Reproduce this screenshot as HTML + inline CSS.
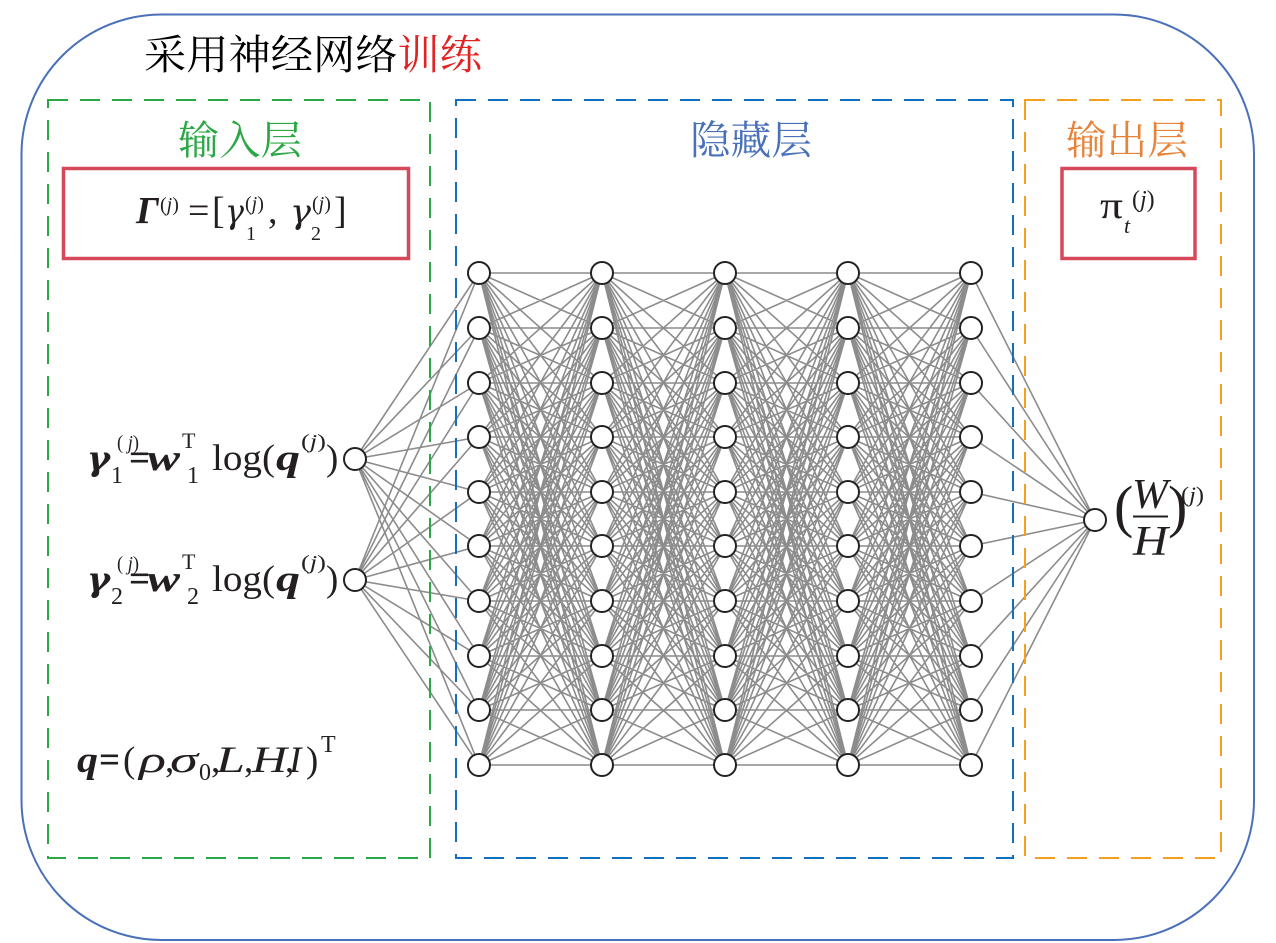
<!DOCTYPE html>
<html>
<head>
<meta charset="utf-8">
<style>
  html,body{margin:0;padding:0;background:#fff;}
  svg{display:block;}
  .m{font-family:"Liberation Serif",serif;fill:#231f20;}
  .g{font-family:"DejaVu Serif","Liberation Serif",serif;}
  .cjk{font-family:"Liberation Serif","Noto Serif CJK SC","Noto Sans CJK SC",serif;}
</style>
</head>
<body>
<svg width="1276" height="943" viewBox="0 0 1276 943" xmlns="http://www.w3.org/2000/svg">
  <defs>
    <path id="pair" fill="none" d="
M0 273L123 273M0 273L123 328M0 273L123 383M0 273L123 437M0 273L123 492M0 273L123 546M0 273L123 601M0 273L123 656M0 273L123 710M0 273L123 765
M0 328L123 273M0 328L123 328M0 328L123 383M0 328L123 437M0 328L123 492M0 328L123 546M0 328L123 601M0 328L123 656M0 328L123 710M0 328L123 765
M0 383L123 273M0 383L123 328M0 383L123 383M0 383L123 437M0 383L123 492M0 383L123 546M0 383L123 601M0 383L123 656M0 383L123 710M0 383L123 765
M0 437L123 273M0 437L123 328M0 437L123 383M0 437L123 437M0 437L123 492M0 437L123 546M0 437L123 601M0 437L123 656M0 437L123 710M0 437L123 765
M0 492L123 273M0 492L123 328M0 492L123 383M0 492L123 437M0 492L123 492M0 492L123 546M0 492L123 601M0 492L123 656M0 492L123 710M0 492L123 765
M0 546L123 273M0 546L123 328M0 546L123 383M0 546L123 437M0 546L123 492M0 546L123 546M0 546L123 601M0 546L123 656M0 546L123 710M0 546L123 765
M0 601L123 273M0 601L123 328M0 601L123 383M0 601L123 437M0 601L123 492M0 601L123 546M0 601L123 601M0 601L123 656M0 601L123 710M0 601L123 765
M0 656L123 273M0 656L123 328M0 656L123 383M0 656L123 437M0 656L123 492M0 656L123 546M0 656L123 601M0 656L123 656M0 656L123 710M0 656L123 765
M0 710L123 273M0 710L123 328M0 710L123 383M0 710L123 437M0 710L123 492M0 710L123 546M0 710L123 601M0 710L123 656M0 710L123 710M0 710L123 765
M0 765L123 273M0 765L123 328M0 765L123 383M0 765L123 437M0 765L123 492M0 765L123 546M0 765L123 601M0 765L123 656M0 765L123 710M0 765L123 765"/>
  </defs>

  <!-- outer rounded frame -->
  <rect x="21.5" y="14.5" width="1232.5" height="925.5" rx="140" ry="140" fill="none" stroke="#4a70b9" stroke-width="2"/>

  <!-- title -->
  <text class="cjk" x="144" y="69" font-size="41" textLength="338" lengthAdjust="spacingAndGlyphs" fill="#000"><tspan fill="#000">采用神经网络</tspan><tspan fill="#e02424">训练</tspan></text>

  <!-- edges -->
  <g stroke="#8c8c8c" stroke-width="1.6" fill="none" stroke-linecap="round">
    <path d="
M355 459L479 273M355 459L479 328M355 459L479 383M355 459L479 437M355 459L479 492M355 459L479 546M355 459L479 601M355 459L479 656M355 459L479 710M355 459L479 765
M355 580L479 273M355 580L479 328M355 580L479 383M355 580L479 437M355 580L479 492M355 580L479 546M355 580L479 601M355 580L479 656M355 580L479 710M355 580L479 765"/>
    <use href="#pair" transform="translate(479,0)"/>
    <use href="#pair" transform="translate(602,0)"/>
    <use href="#pair" transform="translate(725,0)"/>
    <use href="#pair" transform="translate(848,0)"/>
    <path d="
M971 273L1095 520M971 328L1095 520M971 383L1095 520M971 437L1095 520M971 492L1095 520M971 546L1095 520M971 601L1095 520M971 656L1095 520M971 710L1095 520M971 765L1095 520"/>
  </g>

  <!-- dashed layer boxes -->
  <rect x="48" y="100" width="382" height="758" fill="none" stroke="#2aa845" stroke-width="2" stroke-dasharray="20 12"/>
  <rect x="456" y="100" width="557" height="758" fill="none" stroke="#136fbd" stroke-width="2" stroke-dasharray="20 12"/>
  <rect x="1025" y="100" width="196" height="758" fill="none" stroke="#f3a020" stroke-width="2" stroke-dasharray="20 12"/>

  <!-- layer labels -->
  <text class="cjk" x="178" y="154" font-size="40" fill="#2aa845" textLength="124" lengthAdjust="spacingAndGlyphs">输入层</text>
  <text class="cjk" x="690" y="154" font-size="40" fill="#4a70b9" textLength="122" lengthAdjust="spacingAndGlyphs">隐藏层</text>
  <text class="cjk" x="1066" y="154" font-size="40" fill="#e8833a" textLength="122" lengthAdjust="spacingAndGlyphs">输出层</text>

  <!-- red boxes -->
  <rect x="63.5" y="168.5" width="345" height="90" fill="none" stroke="#d5495b" stroke-width="3.5"/>
  <rect x="1062" y="168.5" width="133" height="90" fill="none" stroke="#d5495b" stroke-width="3.5"/>

  <!-- Gamma formula -->
  <g class="m">
    <text x="136" y="223" font-size="38" font-weight="bold" font-style="italic">Γ</text>
    <text x="160" y="211" font-size="20">(<tspan font-style="italic">j</tspan>)</text>
    <text x="188" y="223" font-size="38">=</text>
    <text x="212" y="223" font-size="38">[</text>
    <text class="g" x="225" y="223" font-size="34" font-style="italic" textLength="19" lengthAdjust="spacingAndGlyphs">γ</text>
    <text x="245" y="210" font-size="20">(<tspan font-style="italic">j</tspan>)</text>
    <text x="246" y="240" font-size="20">1</text>
    <text x="268" y="223" font-size="38">,</text>
    <text class="g" x="290" y="223" font-size="34" font-style="italic" textLength="21" lengthAdjust="spacingAndGlyphs">γ</text>
    <text x="312" y="210" font-size="20">(<tspan font-style="italic">j</tspan>)</text>
    <text x="311" y="240" font-size="20">2</text>
    <text x="334" y="223" font-size="38">]</text>
  </g>

  <!-- pi formula -->
  <g class="m">
    <text x="1100" y="218" font-size="38" textLength="23" lengthAdjust="spacingAndGlyphs">π</text>
    <text x="1124" y="233" font-size="22" font-style="italic">t</text>
    <text x="1132" y="207" font-size="24">(<tspan font-style="italic">j</tspan>)</text>
  </g>

  <!-- gamma1 formula -->
  <g class="m">
    <text class="g" x="87" y="470" font-size="34" font-weight="bold" font-style="italic" textLength="23" lengthAdjust="spacingAndGlyphs">γ</text>
    <text x="117" y="449" font-size="20" textLength="22" lengthAdjust="spacingAndGlyphs">(<tspan font-style="italic"> j</tspan>)</text>
    <text x="111" y="483" font-size="24">1</text>
    <text x="129" y="470" font-size="37" font-weight="bold">=</text>
    <text x="147" y="470" font-size="37" font-weight="bold" font-style="italic" textLength="33" lengthAdjust="spacingAndGlyphs">w</text>
    <text x="182" y="448" font-size="22">T</text>
    <text x="187" y="483" font-size="24">1</text>
    <text x="212" y="470" font-size="37" textLength="63" lengthAdjust="spacingAndGlyphs">log(</text>
    <text x="276" y="470" font-size="37" font-weight="bold" font-style="italic" textLength="24" lengthAdjust="spacingAndGlyphs">q</text>
    <text x="301" y="448" font-size="20" textLength="25" lengthAdjust="spacingAndGlyphs">(<tspan font-style="italic">j</tspan>)</text>
    <text x="326" y="470" font-size="37">)</text>
  </g>

  <!-- gamma2 formula -->
  <g class="m" transform="translate(0,121)">
    <text class="g" x="87" y="470" font-size="34" font-weight="bold" font-style="italic" textLength="23" lengthAdjust="spacingAndGlyphs">γ</text>
    <text x="117" y="449" font-size="20" textLength="22" lengthAdjust="spacingAndGlyphs">(<tspan font-style="italic"> j</tspan>)</text>
    <text x="111" y="483" font-size="24">2</text>
    <text x="129" y="470" font-size="37" font-weight="bold">=</text>
    <text x="147" y="470" font-size="37" font-weight="bold" font-style="italic" textLength="33" lengthAdjust="spacingAndGlyphs">w</text>
    <text x="182" y="448" font-size="22">T</text>
    <text x="187" y="483" font-size="24">2</text>
    <text x="212" y="470" font-size="37" textLength="63" lengthAdjust="spacingAndGlyphs">log(</text>
    <text x="276" y="470" font-size="37" font-weight="bold" font-style="italic" textLength="24" lengthAdjust="spacingAndGlyphs">q</text>
    <text x="301" y="448" font-size="20" textLength="25" lengthAdjust="spacingAndGlyphs">(<tspan font-style="italic">j</tspan>)</text>
    <text x="326" y="470" font-size="37">)</text>
  </g>

  <!-- q formula -->
  <g class="m">
    <text x="77" y="772" font-size="37" font-weight="bold" font-style="italic" textLength="21" lengthAdjust="spacingAndGlyphs">q</text>
    <text x="99" y="772" font-size="37" font-weight="bold">=</text>
    <text x="123" y="772" font-size="37">(</text>
    <text x="139" y="772" font-size="37" font-style="italic" textLength="27" lengthAdjust="spacingAndGlyphs">ρ</text>
    <text x="165" y="772" font-size="37">,</text>
    <text x="170" y="772" font-size="37" font-style="italic" textLength="28" lengthAdjust="spacingAndGlyphs">σ</text>
    <text x="199" y="780" font-size="24">0</text>
    <text x="211" y="772" font-size="37">,</text>
    <text x="216" y="772" font-size="37" font-style="italic" textLength="29" lengthAdjust="spacingAndGlyphs">L</text>
    <text x="244" y="772" font-size="37">,</text>
    <text x="252" y="772" font-size="37" font-style="italic" textLength="35" lengthAdjust="spacingAndGlyphs">H</text>
    <text x="285" y="772" font-size="37">,</text>
    <text x="289" y="772" font-size="37" font-style="italic">I</text>
    <text x="306" y="772" font-size="37">)</text>
    <text x="321" y="752" font-size="24">T</text>
  </g>

  <!-- W/H output formula -->
  <g class="m">
    <text x="1114" y="526" font-size="58">(</text>
    <text x="1132" y="508" font-size="42" font-style="italic" textLength="36" lengthAdjust="spacingAndGlyphs">W</text>
    <line x1="1133" y1="516.5" x2="1168" y2="516.5" stroke="#231f20" stroke-width="2"/>
    <text x="1133" y="555" font-size="42" font-style="italic" textLength="35" lengthAdjust="spacingAndGlyphs">H</text>
    <text x="1168" y="526" font-size="58">)</text>
    <text x="1181" y="502" font-size="22" textLength="23" lengthAdjust="spacingAndGlyphs">(<tspan font-style="italic">j</tspan>)</text>
  </g>

  <!-- nodes -->
  <g fill="#fff" stroke="#222" stroke-width="2">
    <circle cx="355" cy="459" r="11"/>
    <circle cx="355" cy="580" r="11"/>
    <circle cx="1095" cy="520" r="11"/>
  </g>
  <g id="col" fill="#fff" stroke="#222" stroke-width="2">
    <circle cx="479" cy="273" r="11"/><circle cx="479" cy="328" r="11"/><circle cx="479" cy="383" r="11"/><circle cx="479" cy="437" r="11"/><circle cx="479" cy="492" r="11"/>
    <circle cx="479" cy="546" r="11"/><circle cx="479" cy="601" r="11"/><circle cx="479" cy="656" r="11"/><circle cx="479" cy="710" r="11"/><circle cx="479" cy="765" r="11"/>
  </g>
  <use href="#col" transform="translate(123,0)"/>
  <use href="#col" transform="translate(246,0)"/>
  <use href="#col" transform="translate(369,0)"/>
  <use href="#col" transform="translate(492,0)"/>
</svg>
</body>
</html>
